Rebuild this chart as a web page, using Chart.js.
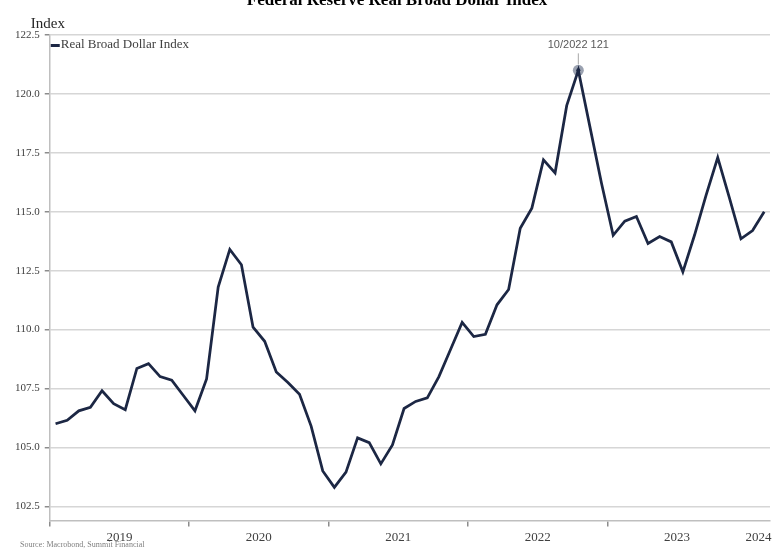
<!DOCTYPE html>
<html>
<head>
<meta charset="utf-8">
<script src="https://cdn.jsdelivr.net/npm/chart.js@4.4.1/dist/chart.umd.min.js"></script>
<style>
  html, body { margin: 0; padding: 0; background: #fff; }
  #wrap { width: 780px; height: 550px; }
</style>
</head>
<body>
<div id="wrap"><canvas id="chart"></canvas></div>
<script>
// monthly values, Jan 2019 .. Feb 2024
const years = ['2019', '2020', '2021', '2022', '2023', '2024']
const dollar2019 = [106.0, 106.15, 106.55, 106.7, 107.4, 106.85, 106.6, 108.35, 108.55, 108.0, 107.85, 107.2]
const dollar2020 = [106.55, 107.9, 111.8, 113.4, 112.75, 110.1, 109.5, 108.2, 107.75, 107.25, 105.9, 104.0]
const dollar2021 = [103.3, 103.95, 105.4, 105.2, 104.3, 105.1, 106.65, 106.95, 107.1, 108.0, 109.15, 110.3]
const dollar2022 = [109.7, 109.8, 111.05, 111.7, 114.3, 115.15, 117.2, 116.65, 119.5, 121.0, 118.6, 116.2]
const dollar2023 = [114.0, 114.6, 114.8, 113.65, 113.95, 113.72, 112.45, 114.0, 115.7, 117.3, 115.6, 113.85]
const dollar2024 = [114.2, 115.0]
const yTicks = [102.5, 105.0, 107.5, 110.0, 112.5, 115.0, 117.5, 120.0, 122.5]

const TITLE = 'Federal Reserve Real Broad Dollar Index'
const SERIES = 'Real Broad Dollar Index'
const SOURCE = 'Source: Macrobond, Summit Financial'

const NAVY = '#1c2744'
const SERIF = '"Liberation Serif", "DejaVu Serif", serif'

const values = [].concat(dollar2019, dollar2020, dollar2021, dollar2022, dollar2023, dollar2024)
const points = values.map((v, i) => ({ x: i + 0.5, y: v }))
const nMonths = values.length

// peak for the callout
const peakIdx = values.indexOf(Math.max(...values))
const peakVal = values[peakIdx]
const peakLabel = `${(peakIdx % 12) + 1}/${years[Math.floor(peakIdx / 12)]} ${Math.round(peakVal)}`

const textPlugin = {
  id: 'extraText',
  afterDraw: (chart) => {
    const { ctx, chartArea, scales } = chart
    ctx.save()
    // title, cut at top edge like the original
    ctx.fillStyle = '#000'
    ctx.font = 'bold 17px ' + SERIF
    ctx.textAlign = 'center'
    ctx.textBaseline = 'alphabetic'
    ctx.fillText(TITLE, 397, 5)

    // axis caption
    ctx.font = '15px ' + SERIF
    ctx.fillStyle = '#262626'
    ctx.textAlign = 'left'
    ctx.textBaseline = 'middle'
    ctx.fillText('Index', chartArea.left - 19, chartArea.top - 11)

    // legend inside the plot
    ctx.fillStyle = NAVY
    ctx.fillRect(chartArea.left + 1, chartArea.top + 9, 9, 3)
    ctx.font = '13px ' + SERIF
    ctx.fillStyle = '#404040'
    ctx.fillText(SERIES, chartArea.left + 11, chartArea.top + 10)

    // source
    ctx.font = '8px ' + SERIF
    ctx.fillStyle = '#7f7f7f'
    ctx.fillText(SOURCE, 20, 545)

    // peak callout
    const px = scales.x.getPixelForValue(peakIdx + 0.5)
    const py = scales.y.getPixelForValue(peakVal)
    ctx.strokeStyle = '#a6a6a6'
    ctx.lineWidth = 1
    ctx.beginPath()
    ctx.moveTo(px, py - 6)
    ctx.lineTo(px, py - 17)
    ctx.stroke()
    ctx.font = '11px "Liberation Sans", Arial, sans-serif'
    ctx.fillStyle = '#595959'
    ctx.textAlign = 'center'
    ctx.fillText(peakLabel, px, py - 25)
    ctx.restore()
  },
}

new Chart(document.getElementById('chart'), {
  type: 'line',
  data: {
    datasets: [
      {
        label: SERIES,
        data: points,
        borderColor: NAVY,
        backgroundColor: NAVY,
        borderWidth: 2.75,
        tension: 0,
        pointRadius: (c) => (c.dataIndex === peakIdx ? 2 : 0),
        pointBackgroundColor: NAVY,
        pointBorderWidth: 0,
        order: 1,
      },
      {
        label: 'peak',
        data: [{ x: peakIdx + 0.5, y: peakVal }],
        showLine: false,
        pointRadius: 5.5,
        pointBackgroundColor: 'rgba(120,130,150,0.75)',
        pointBorderWidth: 0,
        order: 2,
      },
    ],
  },
  options: {
    responsive: true,
    maintainAspectRatio: false,
    animation: false,
    layout: { padding: { top: 35, left: 10, right: 10, bottom: 2 } },
    plugins: {
      tooltip: { enabled: false },
      legend: { display: false },
    },
    scales: {
      x: {
        type: 'linear',
        min: 0,
        max: nMonths,
        weight: 0,
        border: { color: '#bfbfbf', width: 1.5 },
        grid: { drawOnChartArea: false, tickLength: 6, tickColor: '#8c8c8c', lineWidth: 1.5 },
        ticks: { display: false },
        afterBuildTicks: (scale) => {
          scale.ticks = years.slice(0, -1).map((y, i) => ({ value: i * 12 }))
        },
      },
      xYears: {
        type: 'linear',
        position: 'bottom',
        min: 0,
        max: nMonths,
        weight: 1,
        border: { display: false },
        grid: { display: false, drawTicks: false },
        ticks: {
          autoSkip: false,
          maxRotation: 0,
          padding: 3,
          color: '#404040',
          font: { family: SERIF, size: 13 },
          callback: (v) => years[Math.floor(v / 12)],
        },
        afterBuildTicks: (scale) => {
          // centre of the months each year actually covers
          scale.ticks = years.map((y, i) => {
            const end = Math.min((i + 1) * 12, nMonths)
            return { value: (i * 12 + end) / 2 }
          })
        },
      },
      y: {
        min: 101.9,
        max: 122.5,
        border: { color: '#bfbfbf', width: 1.5 },
        grid: { color: '#d6d6d6', lineWidth: 1.5, tickLength: 5, tickColor: '#8c8c8c' },
        ticks: {
          padding: 5,
          color: '#404040',
          font: { family: SERIF, size: 11 },
          callback: (v) => v.toFixed(1),
        },
        afterBuildTicks: (scale) => {
          scale.ticks = yTicks.map((v) => ({ value: v }))
        },
      },
    },
  },
  plugins: [textPlugin],
})
</script>
</body>
</html>
